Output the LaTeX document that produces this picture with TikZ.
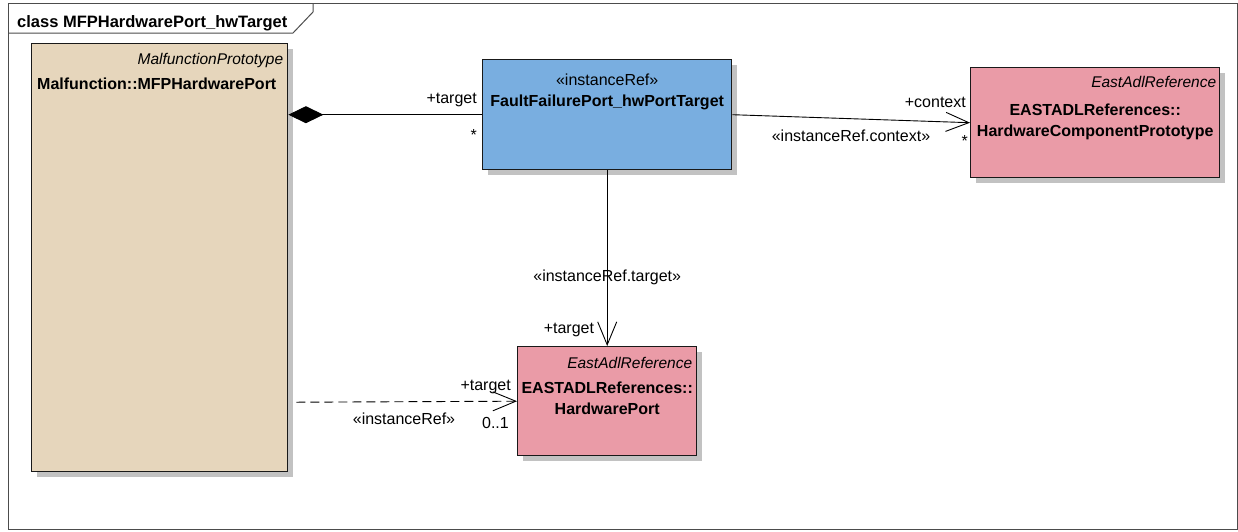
\documentclass[tikz,border=0pt]{standalone}
\usepackage{fontspec}
\setmainfont{Liberation Sans}
\usetikzlibrary{positioning,calc,arrows.meta,shadows}

\definecolor{mfpfill}{HTML}{E6D6BC}
\definecolor{reffill}{HTML}{79AEE0}
\definecolor{eastfill}{HTML}{EA9BA7}

\begin{document}
\begin{tikzpicture}[x=1pt,y=-1pt,
    cls/.style={draw=black!90, line width=1.4pt, anchor=north west, inner sep=0pt,
        drop shadow={shadow xshift=5pt, shadow yshift=-5pt, fill=black!24, opacity=1}},
    mfpbox/.style={cls, fill=mfpfill, minimum width=256pt, minimum height=428pt},
    refbox/.style={cls, fill=reffill, minimum width=249pt, minimum height=110pt},
    eastbox/.style={cls, fill=eastfill, minimum width=249pt, minimum height=110pt},
    txt/.style={inner sep=0pt, font=\fontsize{16}{19}\selectfont},
    stereo/.style={txt, font=\itshape\fontsize{15.5}{18}\selectfont, anchor=base east},
    cname/.style={txt, font=\bfseries\fontsize{16}{19}\selectfont, anchor=base},
    role/.style={txt, anchor=base east},
    link/.style={line width=0.9pt},
    openarrow/.style={link, -{Straight Barb[length=23pt,width=19pt]}}
]
\useasboundingbox (0,0) rectangle (1238,531);

% frame and title tab
\draw[black!70, line width=1pt] (8,3) rectangle (1237,529);
\draw[black!70, line width=1pt] (8,33) -- (293,33) -- (313,12) -- (313,3);
\node[txt, font=\bfseries\fontsize{16.5}{19}\selectfont, anchor=base west] (title) at (17,27) {class MFPHardwarePort\_hwTarget};

% Malfunction prototype
\node[mfpbox] (mfp) at (31,43) {};
\node[stereo] (mfpst) at ($(mfp.north east)+(-5,21)$) {MalfunctionPrototype};
\node[cname, anchor=base west] (mfpname) at ($(mfp.north west)+(6,46)$) {Malfunction::MFPHardwarePort};

% instanceRef class
\node[refbox] (iref) at (482,59) {};
\node[txt, anchor=base] (irefst) at ($(iref.north)+(0,26)$) {«instanceRef»};
\node[cname] (irefname) at ($(iref.north)+(0,47)$) {FaultFailurePort\_hwPortTarget};

% context reference
\node[eastbox] (ctx) at (970,67) {};
\node[stereo] (ctxst) at ($(ctx.north east)+(-4,20)$) {EastAdlReference};
\node[cname] (ctxname) at ($(ctx.north)+(0,48)$) {EASTADLReferences::};
\node[cname] (ctxname2) at ($(ctx.north)+(0,69)$) {HardwareComponentPrototype};

% hardware port reference
\node[eastbox, minimum width=179pt, minimum height=109pt] (hwp) at (517,346) {};
\node[stereo] (hwpst) at ($(hwp.north east)+(-5,22)$) {EastAdlReference};
\node[cname] (hwpname) at ($(hwp.north)+(0,47)$) {EASTADLReferences::};
\node[cname] (hwpname2) at ($(hwp.north)+(0,68)$) {HardwarePort};

% composition
\draw[link, {Diamond[length=35pt,width=17pt]}-] (mfp.east |- iref.west) -- (iref.west);
\node[role] (comprole) at ($(iref.west)+(-5,-11)$) {+target};
\node[role] (compmult) at ($(iref.west)+(-5,26)$) {*};

% context
\draw[openarrow] (iref.east) -- (ctx.west);
\node[role] (ctxrole) at ($(ctx.west)+(-4,-15)$) {+context};
\node[txt, anchor=base] (ctxlbl) at ($(ctx.west)+(-119,19)$) {«instanceRef.context»};
\node[role] (ctxmult) at ($(ctx.west)+(-2,24)$) {*};

% target
\draw[openarrow] (iref.south) -- (hwp.north);
\node[txt, anchor=base] (tgtlbl) at ($(hwp.north)+(0,-65)$) {«instanceRef.target»};
\node[role] (tgtrole) at ($(hwp.north)+(-13,-13)$) {+target};

% instanceRef dependency
\coordinate (dep) at ($(mfp.east |- hwp.west)+(8,1)$);
\draw[openarrow, dash pattern=on 9pt off 5pt] (dep) -- (hwp.west);
\node[role] (deprole) at ($(hwp.west)+(-6,-11)$) {+target};
\node[txt, anchor=base] (deplbl) at ($(hwp.west)+(-113,23)$) {«instanceRef»};
\node[role] (depmult) at ($(hwp.west)+(-8,27)$) {0..1};
\end{tikzpicture}
\end{document}
